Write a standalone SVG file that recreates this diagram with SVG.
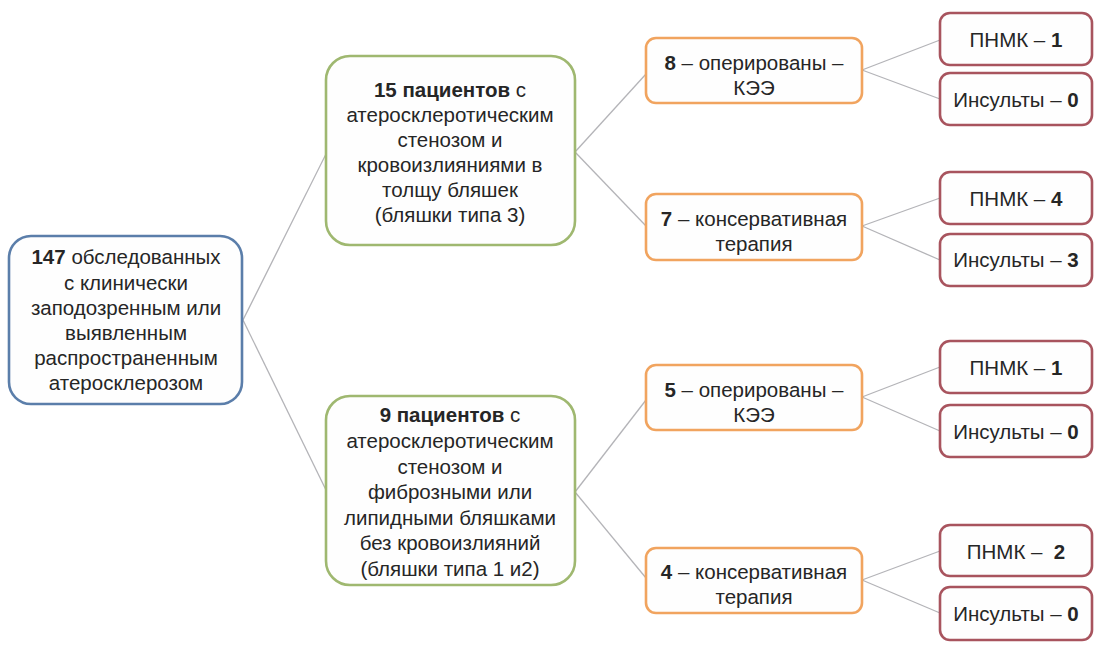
<svg xmlns="http://www.w3.org/2000/svg" width="1104" height="659" viewBox="0 0 1104 659">
<style>
text{font-family:"Liberation Sans",Arial,sans-serif;font-size:20.5px;fill:#262626;text-anchor:middle;white-space:pre}
.b{font-weight:bold}
.box{fill:#fefefe;stroke-width:2.6}
.blue{stroke:#5b7eaa}
.green{stroke:#9fb870}
.orange{stroke:#f1a45f}
.red{stroke:#a8545e}
.con{stroke:#b4b4b8;stroke-width:1.3;fill:none}
</style>
<rect width="1104" height="659" fill="#ffffff"/>
<g id="connectors">
<line class="con" x1="243" y1="320" x2="326" y2="154"/>
<line class="con" x1="243" y1="320" x2="326" y2="490"/>
<line class="con" x1="575" y1="152" x2="646" y2="74"/>
<line class="con" x1="575" y1="152" x2="646" y2="226"/>
<line class="con" x1="575" y1="492" x2="646" y2="400"/>
<line class="con" x1="575" y1="492" x2="646" y2="578"/>
<line class="con" x1="862" y1="70" x2="940" y2="40"/>
<line class="con" x1="862" y1="70" x2="940" y2="99"/>
<line class="con" x1="862" y1="226" x2="940" y2="198"/>
<line class="con" x1="862" y1="226" x2="940" y2="260"/>
<line class="con" x1="862" y1="397" x2="940" y2="367"/>
<line class="con" x1="862" y1="397" x2="940" y2="431"/>
<line class="con" x1="862" y1="580" x2="940" y2="551"/>
<line class="con" x1="862" y1="580" x2="940" y2="613"/>
</g>
<g id="root">
<rect class="box blue" x="9" y="236" width="233" height="168" rx="22"/>
<text x="126" y="264"><tspan class="b">147</tspan> обследованных</text>
<text x="126" y="290">с клинически</text>
<text x="126" y="315">заподозренным или</text>
<text x="126" y="340">выявленным</text>
<text x="126" y="365">распространенным</text>
<text x="126" y="390">атеросклерозом</text>
</g>
<g id="group-type3">
<rect class="box green" x="326" y="56" width="249" height="189" rx="24"/>
<text x="450" y="97"><tspan class="b">15 пациентов</tspan> с</text>
<text x="450" y="122">атеросклеротическим</text>
<text x="450" y="147">стенозом и</text>
<text x="450" y="172">кровоизлияниями в</text>
<text x="450" y="197">толщу бляшек</text>
<text x="450" y="222">(бляшки типа 3)</text>
</g>
<g id="group-type12">
<rect class="box green" x="326" y="396" width="249" height="189" rx="24"/>
<text x="450" y="422"><tspan class="b">9 пациентов</tspan> с</text>
<text x="450" y="448">атеросклеротическим</text>
<text x="450" y="474">стенозом и</text>
<text x="450" y="499">фиброзными или</text>
<text x="450" y="525">липидными бляшками</text>
<text x="450" y="550">без кровоизлияний</text>
<text x="450" y="576">(бляшки типа 1 и2)</text>
</g>
<g id="op8">
<rect class="box orange" x="646" y="38" width="216" height="65" rx="10"/>
<text x="754" y="70"><tspan class="b">8</tspan> – оперированы –</text>
<text x="754" y="95">КЭЭ</text>
</g>
<g id="cons7">
<rect class="box orange" x="646" y="194" width="216" height="66" rx="10"/>
<text x="754" y="226"><tspan class="b">7</tspan> – консервативная</text>
<text x="754" y="251">терапия</text>
</g>
<g id="op5">
<rect class="box orange" x="646" y="365" width="216" height="65" rx="10"/>
<text x="754" y="397"><tspan class="b">5</tspan> – оперированы –</text>
<text x="754" y="422">КЭЭ</text>
</g>
<g id="cons4">
<rect class="box orange" x="646" y="548" width="216" height="65" rx="10"/>
<text x="754" y="579"><tspan class="b">4</tspan> – консервативная</text>
<text x="754" y="604">терапия</text>
</g>
<g id="r1">
<rect class="box red" x="940" y="13" width="152" height="52" rx="10"/>
<text x="1016" y="47">ПНМК – <tspan class="b">1</tspan></text>
</g>
<g id="r2">
<rect class="box red" x="940" y="73" width="152" height="52" rx="10"/>
<text x="1016" y="107">Инсульты – <tspan class="b">0</tspan></text>
</g>
<g id="r3">
<rect class="box red" x="940" y="172" width="152" height="52" rx="10"/>
<text x="1016" y="206">ПНМК – <tspan class="b">4</tspan></text>
</g>
<g id="r4">
<rect class="box red" x="940" y="234" width="152" height="52" rx="10"/>
<text x="1016" y="267">Инсульты – <tspan class="b">3</tspan></text>
</g>
<g id="r5">
<rect class="box red" x="940" y="341" width="152" height="52" rx="10"/>
<text x="1016" y="375">ПНМК – <tspan class="b">1</tspan></text>
</g>
<g id="r6">
<rect class="box red" x="940" y="405" width="152" height="52" rx="10"/>
<text x="1016" y="439">Инсульты – <tspan class="b">0</tspan></text>
</g>
<g id="r7">
<rect class="box red" x="940" y="525" width="152" height="51" rx="10"/>
<text x="1016" y="559">ПНМК –  <tspan class="b">2</tspan></text>
</g>
<g id="r8">
<rect class="box red" x="940" y="587" width="152" height="53" rx="10"/>
<text x="1016" y="621">Инсульты – <tspan class="b">0</tspan></text>
</g>
</svg>
